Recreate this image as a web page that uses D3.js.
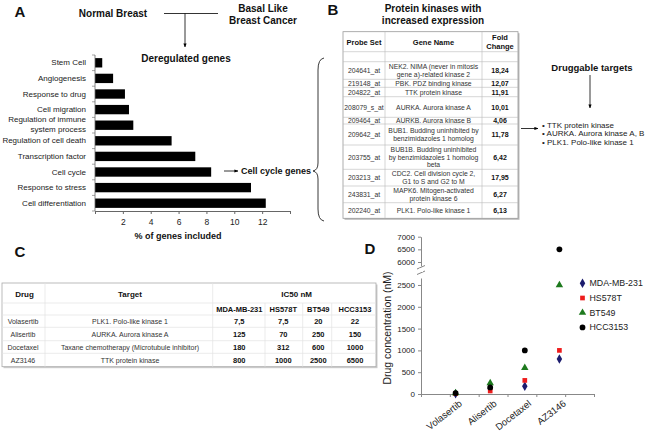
<!DOCTYPE html>
<html><head><meta charset="utf-8">
<script src="https://cdn.jsdelivr.net/npm/d3@7"></script>
<style>body{margin:0;background:#fff}svg{display:block}</style>
</head><body><svg id="c" width="650" height="432"></svg>
<script>
// ---------- DATA ----------
const categories = ["Stem Cell","Angiogenesis","Response to drug","Cell migration","Regulation of immune|system process","Regulation of cell death","Transcription factor","Cell cycle","Response to stress","Cell differentiation"];
const pctGenes = [0.52,1.3,2.15,2.44,2.75,5.5,7.2,8.34,11.2,12.26];
const xTicksA = [2,4,6,8,10,12];

const probeSets = ["204641_at","219148_at","204822_at","208079_s_at","209464_at","209642_at","203755_at","203213_at","243831_at","202240_at"];
const geneNames = [
  ["NEK2. NIMA (never in mitosis","gene a)-related kinase 2"],
  ["PBK. PDZ binding kinase"],
  ["TTK protein kinase"],
  ["AURKA. Aurora kinase A"],
  ["AURKB. Aurora kinase B"],
  ["BUB1. Budding uninhibited by","benzimidazoles 1 homolog"],
  ["BUB1B. Budding uninhibited","by benzimidazoles 1 homolog","beta"],
  ["CDC2. Cell division cycle 2,","G1 to S and G2 to M"],
  ["MAPK6. Mitogen-activated","protein kinase 6"],
  ["PLK1. Polo-like kinase 1"]];
const foldChanges = [18.24,12.07,11.91,10.01,4.06,11.78,6.42,17.95,6.27,6.13];
const druggable = ["TTK protein kinase","AURKA. Aurora kinase A, B","PLK1. Polo-like kinase 1"];

const drugs = ["Volasertib","Alisertib","Docetaxel","AZ3146"];
const targets = ["PLK1. Polo-like kinase 1","AURKA. Aurora kinase A","Taxane chemotherapy (Microtubule inhibitor)","TTK protein kinase"];
const cellLines = ["MDA-MB-231","HS578T","BT549","HCC3153"];
const ic50MDA = [7.5,125,180,800];
const ic50HS = [7.5,70,312,1000];
const ic50BT = [20,250,600,2500];
const ic50HCC = [22,150,1000,6500];
const yTicksLow = [0,500,1000,1500,2000,2500];
const yTicksHigh = [6000,6500,7000];

// ---------- SETUP ----------
const FONT = "'Liberation Sans', Arial, Helvetica, sans-serif";
const svg = d3.select("#c").attr("font-family",FONT);
svg.append("rect").attr("width",650).attr("height",432).attr("fill","#fff");
const defs = svg.append("defs");
defs.append("marker").attr("id","ah").attr("viewBox","0 0 10 10").attr("refX",9).attr("refY",5)
  .attr("markerWidth",5).attr("markerHeight",5).attr("orient","auto")
  .append("path").attr("d","M0,1L10,5L0,9z").attr("fill","#000");
const fmt = v => String(v).replace(".",",");
const fcFmt = v => d3.format(".2f")(v).replace(".",",");
function txt(g,x,y,s,opt={}){
  return g.append("text").attr("x",x).attr("y",y).text(s).attr("font-family",FONT)
    .attr("font-size",opt.size||8).attr("font-weight",opt.bold?"bold":"normal")
    .attr("text-anchor",opt.anchor||"middle").attr("dominant-baseline","central")
    .attr("fill",opt.fill||"#111");
}

// ---------- PANEL A ----------
const A = svg.append("g");
txt(A,20,11,"A",{size:15,bold:true});
txt(A,113,13,"Normal Breast",{size:10,bold:true});
txt(A,263,8,"Basal Like",{size:10,bold:true});
txt(A,263,20,"Breast Cancer",{size:10,bold:true});
A.append("line").attr("x1",164).attr("x2",218).attr("y1",13.5).attr("y2",13.5).attr("stroke","#000").attr("stroke-width",0.8);
A.append("line").attr("x1",185).attr("x2",185).attr("y1",13.5).attr("y2",47).attr("stroke","#000").attr("stroke-width",0.8).attr("marker-end","url(#ah)");
txt(A,186,58,"Deregulated genes",{size:10,bold:true});

const xA = d3.scaleLinear().domain([0,14]).range([95,290]);
const yA = d3.scaleBand().domain(categories).range([55,211]).paddingInner(0.4).paddingOuter(0.2);
A.selectAll("rect.bar").data(categories).join("rect").attr("class","bar")
  .attr("x",xA(0)).attr("y",d=>yA(d)).attr("height",yA.bandwidth())
  .attr("width",(d,i)=>xA(pctGenes[i])-xA(0)).attr("fill","#000");
A.append("line").attr("x1",95).attr("x2",95).attr("y1",55).attr("y2",211).attr("stroke","#666").attr("stroke-width",0.8);
d3.range(11).forEach(i=>{const y=55+i*yA.step();A.append("line").attr("x1",92).attr("x2",95).attr("y1",y).attr("y2",y).attr("stroke","#666").attr("stroke-width",0.6);});
categories.forEach((c,i)=>{
  const lines=c.split("|"); const cy=yA(c)+yA.bandwidth()/2 - (lines.length-1)*1.2;
  lines.forEach((l,j)=>txt(A,86,cy+(j-(lines.length-1)/2)*10,l,{size:8,anchor:"end",fill:"#222"}));
});
const axA = A.append("g").attr("transform","translate(0,211)")
  .call(d3.axisBottom(xA).tickValues([0,...xTicksA,14]).tickSize(3).tickSizeOuter(0)
  .tickFormat(d=>xTicksA.includes(d)?d:""));
axA.select(".domain").attr("stroke","#666");
axA.selectAll(".tick line").attr("stroke","#666");
axA.selectAll("text").attr("font-size",8.5).attr("fill","#222").attr("font-family",FONT).attr("dy","0.9em");
txt(A,178,236,"% of genes included",{size:9,bold:true});
A.append("line").attr("x1",224).attr("x2",238).attr("y1",171).attr("y2",171).attr("stroke","#000").attr("stroke-width",0.8).attr("marker-end","url(#ah)");
txt(A,241,171,"Cell cycle genes",{size:9,bold:true,anchor:"start"});
A.append("path").attr("d","M324,58 Q318,59 318,70 L318,163 Q318,170 313,171 Q318,172 318,179 L318,209 Q318,220 324,221")
  .attr("fill","none").attr("stroke","#222").attr("stroke-width",0.9);

// ---------- PANEL B ----------
const B = svg.append("g");
txt(B,333,9,"B",{size:15,bold:true});
txt(B,433,8,"Protein kinases with",{size:10,bold:true});
txt(B,433,20,"increased expression",{size:10,bold:true});
const colX=[343,385,482,518];
const rowY=[31.7,51.7,61.7,79.3,87.3,96.7,117.3,124,145,169.3,186,202.7,218.3];
B.append("rect").attr("x",colX[0]+1.5).attr("y",rowY[0]+1.5).attr("width",colX[3]-colX[0]).attr("height",rowY[12]-rowY[0]).attr("fill","#bbb");
B.append("rect").attr("x",colX[0]).attr("y",rowY[0]).attr("width",colX[3]-colX[0]).attr("height",rowY[12]-rowY[0]).attr("fill","#fff").attr("stroke","#999").attr("stroke-width",0.8);
rowY.slice(1,12).forEach(y=>B.append("line").attr("x1",colX[0]).attr("x2",colX[3]).attr("y1",y).attr("y2",y).attr("stroke","#bbb").attr("stroke-width",0.6));
[colX[1],colX[2]].forEach(x=>B.append("line").attr("x1",x).attr("x2",x).attr("y1",rowY[0]).attr("y2",rowY[12]).attr("stroke","#bbb").attr("stroke-width",0.6));
const cx=[(colX[0]+colX[1])/2,(colX[1]+colX[2])/2,(colX[2]+colX[3])/2];
txt(B,cx[0],42,"Probe Set",{size:7.5,bold:true});
txt(B,cx[1],42,"Gene Name",{size:7.5,bold:true});
txt(B,cx[2],37,"Fold",{size:7.5,bold:true});
txt(B,cx[2],46.5,"Change",{size:7.5,bold:true});
probeSets.forEach((p,i)=>{
  const yc=(rowY[i+2]+rowY[i+3])/2;
  txt(B,cx[0],yc,p,{size:6.8,fill:"#333"});
  const g=geneNames[i];
  g.forEach((l,j)=>txt(B,cx[1],yc+(j-(g.length-1)/2)*7.8,l,{size:6.8,fill:"#333"}));
  txt(B,cx[2],yc,fcFmt(foldChanges[i]),{size:7,bold:true});
});
txt(B,592,67,"Druggable targets",{size:9.5,bold:true});
B.append("line").attr("x1",590).attr("x2",590).attr("y1",75).attr("y2",108).attr("stroke","#000").attr("stroke-width",0.8).attr("marker-end","url(#ah)");
B.append("line").attr("x1",521).attr("x2",538).attr("y1",128.5).attr("y2",128.5).attr("stroke","#000").attr("stroke-width",0.8).attr("marker-end","url(#ah)");
druggable.forEach((d,i)=>txt(B,542,125+i*8.8,"\u2022 "+d,{size:8,anchor:"start",fill:"#222"}));

// ---------- PANEL C ----------
const C = svg.append("g");
txt(C,20,251,"C",{size:15,bold:true});
const cX=[2,45,212.7,265,302.7,331.7,376];
const cY=[283,303,315,327.3,340.7,353.3,366.7];
C.append("rect").attr("x",cX[0]+1.5).attr("y",cY[0]+1.5).attr("width",cX[6]-cX[0]).attr("height",cY[6]-cY[0]).attr("fill","#ccc");
C.append("rect").attr("x",cX[0]).attr("y",cY[0]).attr("width",cX[6]-cX[0]).attr("height",cY[6]-cY[0]).attr("fill","#fff").attr("stroke","#aaa").attr("stroke-width",0.8);
cY.slice(1,6).forEach(y=>C.append("line").attr("x1",cX[0]).attr("x2",cX[6]).attr("y1",y).attr("y2",y).attr("stroke","#e2e2e2").attr("stroke-width",0.7));
[cX[1],cX[2]].forEach(x=>C.append("line").attr("x1",x).attr("x2",x).attr("y1",cY[0]).attr("y2",cY[6]).attr("stroke","#e2e2e2").attr("stroke-width",0.7));
[cX[3],cX[4],cX[5]].forEach(x=>C.append("line").attr("x1",x).attr("x2",x).attr("y1",cY[1]).attr("y2",cY[6]).attr("stroke","#e2e2e2").attr("stroke-width",0.7));
txt(C,(cX[0]+cX[1])/2+1,294,"Drug",{size:8,bold:true});
txt(C,130,294,"Target",{size:8,bold:true});
txt(C,296.7,294,"IC50 nM",{size:8,bold:true});
const ccx=[239.3,283.3,318.3,355];
cellLines.forEach((c,i)=>txt(C,ccx[i],309.3,c,{size:7.5,bold:true}));
const ic50=[ic50MDA,ic50HS,ic50BT,ic50HCC];
drugs.forEach((d,i)=>{
  const yc=(cY[i+2]+cY[i+3])/2;
  txt(C,23,yc,d,{size:7,fill:"#333"});
  txt(C,130,yc,targets[i],{size:7,fill:"#333"});
  ic50.forEach((arr,k)=>txt(C,ccx[k],yc,fmt(arr[i]),{size:7.5,bold:true}));
});

// ---------- PANEL D ----------
const D = svg.append("g");
txt(D,370,248,"D",{size:15,bold:true});
const xD = d3.scaleLinear().domain([0,5]).range([421,594]);
const yLow = d3.scaleLinear().domain([0,2660]).range([394,278]);
const yHigh = d3.scaleLinear().domain([5850,7000]).range([265.8,236.7]);
const yD = v => v>3000 ? yHigh(v) : yLow(v);
function styleAx(g){g.select(".domain").attr("stroke","#888");g.selectAll(".tick line").attr("stroke","#888");
  g.selectAll("text").attr("font-size",8).attr("fill","#222").attr("font-family",FONT);}
D.append("g").attr("transform","translate(421,0)").call(d3.axisLeft(yLow).tickValues(yTicksLow).tickSize(3).tickSizeOuter(0).tickFormat(d3.format("d"))).call(styleAx);
D.append("g").attr("transform","translate(421,0)").call(d3.axisLeft(yHigh).tickValues(yTicksHigh).tickSize(3).tickSizeOuter(0).tickFormat(d3.format("d"))).call(styleAx);
[[417,269,425,265.5],[417,274.5,425,271]].forEach(b=>D.append("line").attr("x1",b[0]).attr("y1",b[1]).attr("x2",b[2]).attr("y2",b[3]).attr("stroke","#777").attr("stroke-width",0.9));
D.append("rect").attr("x",419).attr("y",268.5).attr("width",4).attr("height",3.5).attr("fill","#fff");
const axX = D.append("g").attr("transform","translate(0,394)")
  .call(d3.axisBottom(xD).tickValues(d3.range(7).map(i=>i*5/6)).tickSize(3).tickSizeOuter(0).tickFormat(""));
axX.select(".domain").attr("stroke","#888");axX.selectAll(".tick line").attr("stroke","#888");
drugs.forEach((d,i)=>{
  D.append("text").attr("transform",`translate(${xD(i+1)+5},${402}) rotate(-38)`).attr("text-anchor","end")
   .attr("font-family",FONT).attr("dominant-baseline","central").attr("font-size",9.5).attr("fill","#222").text(d);
});
D.append("text").attr("transform","translate(387,328) rotate(-90)").attr("text-anchor","middle")
  .attr("font-family",FONT).attr("dominant-baseline","central").attr("font-size",10.5).attr("fill","#222").text("Drug concentration (nM)");
const sym=[d3.symbolDiamond,d3.symbolSquare,d3.symbolTriangle,d3.symbolCircle];
const cols=["#1c1c6e","#ee1c1c","#1e7a1e","#000"];
const sizes=[26,22,24,26];
ic50.forEach((arr,k)=>{
  D.selectAll(null).data(arr).join("path")
   .attr("transform",(v,i)=>`translate(${xD(i+1)},${yD(v)})`)
   .attr("d",d3.symbol(sym[k],sizes[k])).attr("fill",cols[k]);
});
cellLines.forEach((c,k)=>{
  const y=283.3+k*14.7;
  D.append("path").attr("transform",`translate(582.5,${y})`).attr("d",d3.symbol(sym[k],sizes[k])).attr("fill",cols[k]);
  txt(D,589.5,y,c,{size:8.8,anchor:"start",fill:"#222"});
});
</script></body></html>
